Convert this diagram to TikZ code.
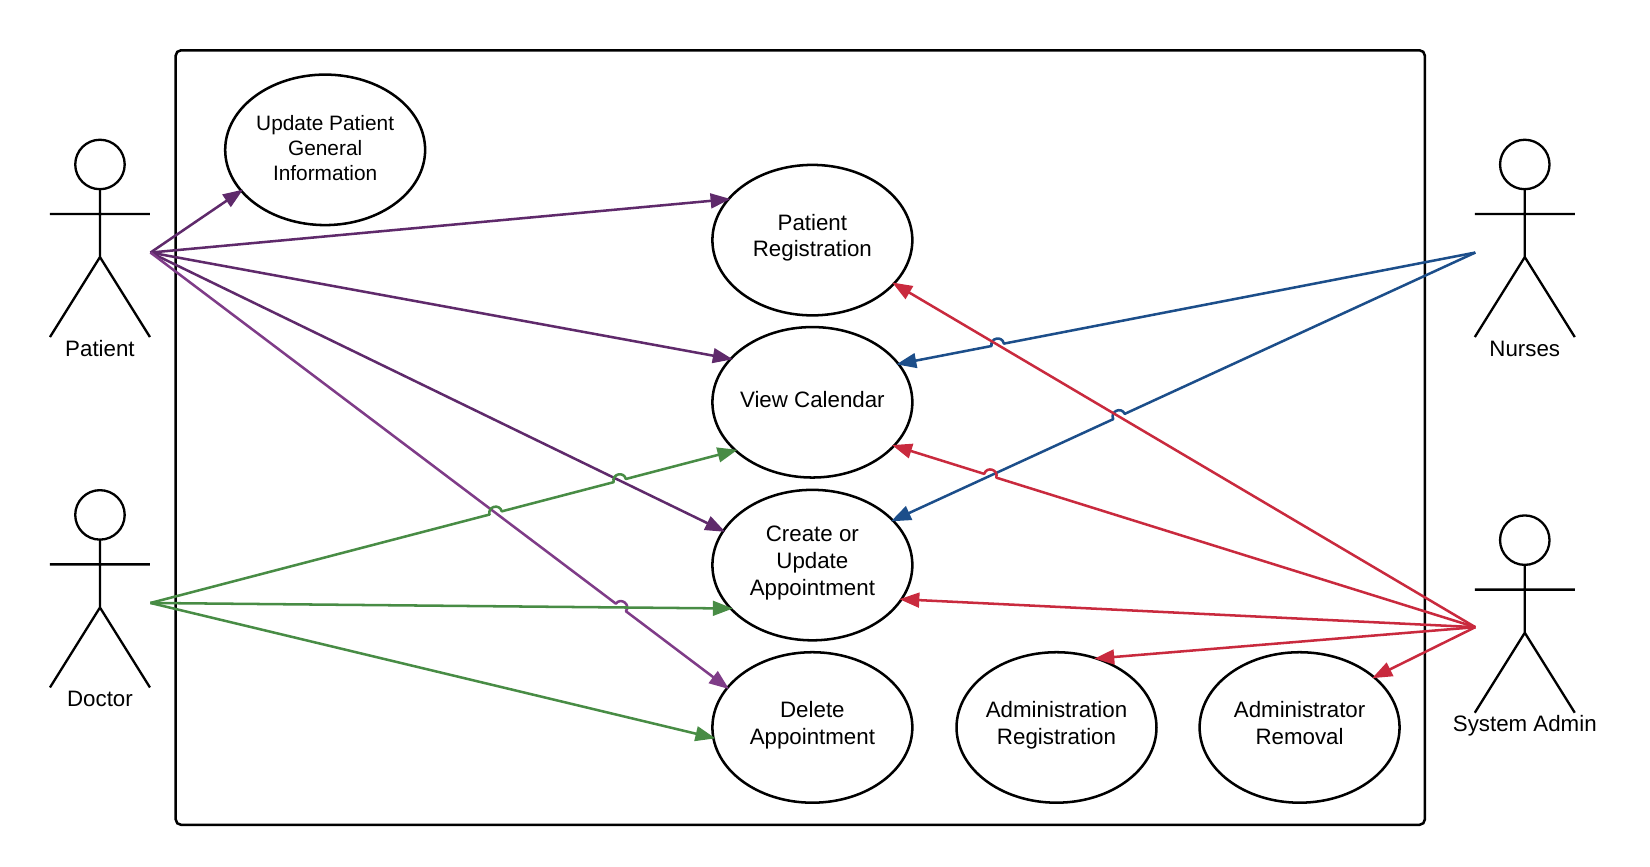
\documentclass[tikz,border=0pt]{standalone}
\usepackage{fontspec}
\setmainfont{Liberation Sans}
\usetikzlibrary{arrows.meta,calc,shapes.geometric}
\definecolor{pdark}{HTML}{5F2A6B}
\definecolor{plight}{HTML}{7F3C88}
\definecolor{cgreen}{HTML}{488C45}
\definecolor{cblue}{HTML}{1C4E8A}
\definecolor{cred}{HTML}{C92A3E}
\tikzset{
  usecase/.style={draw=black,line width=2.4pt,ellipse,minimum width=190pt,minimum height=143pt,inner sep=-6pt,outer sep=0pt,align=center,text depth=9pt,font=\fontsize{21.2}{25.6}\selectfont},
  actorlabel/.style={inner sep=0pt,font=\fontsize{21.2}{26}\selectfont},
  head/.style={draw=black,line width=2.2pt,circle,minimum size=47pt,inner sep=0pt,outer sep=0pt},
  body/.style={line width=2.2pt,black},
  system/.style={draw=black,line width=2.4pt,rounded corners=5pt,minimum width=1187pt,minimum height=736pt,inner sep=0pt,outer sep=0pt},
  assoc/.style={line width=2.4pt,-{Triangle[length=19pt,width=14pt]},line join=round,shorten >=-2pt},
  jl/.style={bend left=90,looseness=1.7},
  jr/.style={bend right=90,looseness=1.7},
}
\newcommand{\actor}[5]{% name, x, y of head, label text, label y
  \node[head] (#1) at (#2,#3) {};
  \coordinate (#1hub) at (#2,#3+88);
  \coordinate (#1armL) at (#2-47.5,#3+47);
  \coordinate (#1armR) at (#2+47.5,#3+47);
  \coordinate (#1footL) at (#2-47.5,#3+164);
  \coordinate (#1footR) at (#2+47.5,#3+164);
  \draw[body] (#1.south) -- (#1hub) (#1armL) -- (#1armR) (#1footL) -- (#1hub) -- (#1footR);
  \node[actorlabel] (#1label) at (#2,#5) {#4};
}
\begin{document}
\begin{tikzpicture}[x=1pt,y=-1pt]
\path[use as bounding box] (0,0) rectangle (1568,823.9);
\node[system] (sys) at (760.5,415.8) {};
\node[usecase,text depth=4pt,font=\fontsize{19.8}{24}\selectfont] (upd) at (309,142.4) {Update Patient\\General\\Information};
\node[usecase] (reg) at (772,228.2) {Patient\\Registration};
\node[usecase,text depth=6pt] (cal) at (772,382.3) {View Calendar};
\node[usecase] (cre) at (772,537) {Create or\\Update\\Appointment};
\node[usecase] (del) at (772,691.3) {Delete\\Appointment};
\node[usecase] (adr) at (1004,691.3) {Administration\\Registration};
\node[usecase] (rem) at (1235,691.3) {Administrator\\Removal};
\actor{pat}{95}{156.3}{Patient}{331}
\actor{doc}{95}{489.3}{Doctor}{664}
\actor{nur}{1449}{156.3}{Nurses}{331.5}
\actor{adm}{1449}{513.3}{System Admin}{689.5}
\coordinate (ps) at (143,240);
\coordinate (ds) at (143,573);
\coordinate (ns) at (1402,240);
\coordinate (as) at (1402,596);
% crossings
\coordinate (j1) at (intersection cs:first line={(ds)--(cal.212.2)},second line={(ps)--(del.155)});
\coordinate (j2) at (intersection cs:first line={(ds)--(cal.212.2)},second line={(ps)--(cre.159.4)});
\coordinate (j3) at (intersection cs:first line={(ps)--(del.155)},second line={(ds)--(cre.208)});
\coordinate (j4) at (intersection cs:first line={(ns)--(cal.24)},second line={(as)--(reg.-28)});
\coordinate (j5) at (intersection cs:first line={(ns)--(cre.29.5)},second line={(as)--(reg.-28)});
\coordinate (j6) at (intersection cs:first line={(as)--(cal.-28.6)},second line={(ns)--(cre.29.5)});
% patient
\draw[assoc,pdark] (ps) -- (upd.206);
\draw[assoc,pdark] (ps) -- (reg.154.3);
\draw[assoc,pdark] (ps) -- (cal.152.5);
\draw[assoc,pdark] (ps) -- (cre.159.4);
\draw[assoc,plight] (ps) -- ($(j3)!6pt!(ps)$) to[jl] ($(j3)!6pt!(del.155)$) -- (del.155);
% doctor
\draw[assoc,cgreen] (ds) -- ($(j1)!6pt!(ds)$) to[jl] ($(j1)!6pt!(cal.212.2)$) -- ($(j2)!6pt!(ds)$) to[jl] ($(j2)!6pt!(cal.212.2)$) -- (cal.212.2);
\draw[assoc,cgreen] (ds) -- (cre.208);
\draw[assoc,cgreen] (ds) -- (del.186.7);
% nurses
\draw[assoc,cblue] (ns) -- ($(j4)!6pt!(ns)$) to[jr] ($(j4)!6pt!(cal.24)$) -- (cal.24);
\draw[assoc,cblue] (ns) -- ($(j5)!6pt!(ns)$) to[jr] ($(j5)!6pt!(cre.29.5)$) -- (cre.29.5);
% admin
\draw[assoc,cred] (as) -- (reg.-28);
\draw[assoc,cred] (as) -- ($(j6)!6pt!(as)$) to[jr] ($(j6)!6pt!(cal.-28.6)$) -- (cal.-28.6);
\draw[assoc,cred] (as) -- (cre.-21.4);
\draw[assoc,cred] (as) -- (adr.60.4);
\draw[assoc,cred] (as) -- (rem.34.4);
\end{tikzpicture}
\end{document}
